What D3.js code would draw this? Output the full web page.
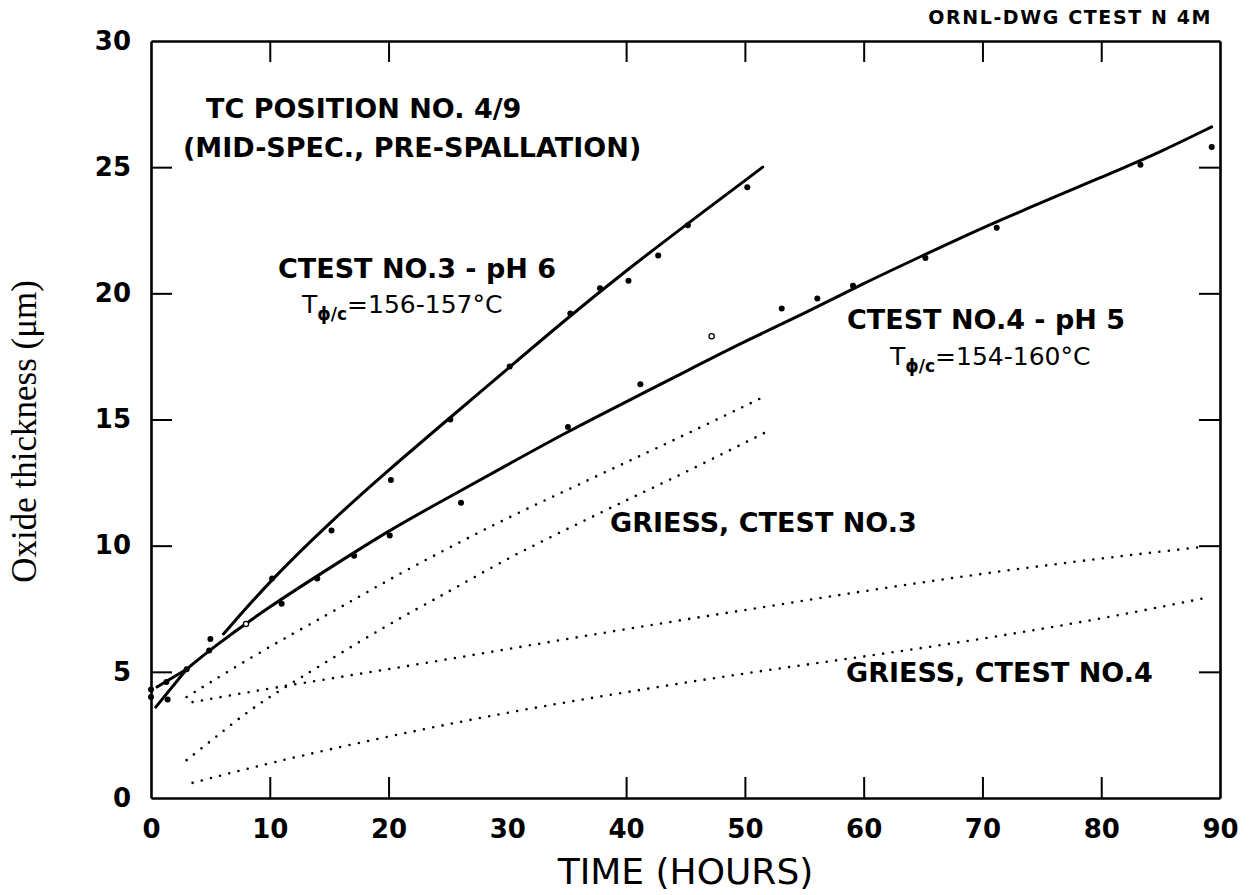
<!DOCTYPE html>
<html>
<head>
<meta charset="utf-8">
<script src="https://cdn.jsdelivr.net/npm/d3@7"></script>
<style>
  body { margin: 0; background: #fff; }
</style>
</head>
<body>
<div id="oxide_chart"></div>
<script>
// measured points, CTEST no.3 (pH 6)
const ctest3Hours = [0, 1.3, 3, 5, 10.2, 15.2, 20.2, 25.2, 30.2, 35.3, 37.8, 40.2, 42.7, 45.2, 50.2]
const ctest3Oxide = [4.3, 4.6, 5.1, 6.3, 8.7, 10.6, 12.6, 15.0, 17.1, 19.2, 20.2, 20.5, 21.5, 22.7, 24.2]

// measured points, CTEST no.4 (pH 5)
const ctest4Hours = [0, 1.4, 4.9, 8, 11, 14, 17.1, 20.1, 26.1, 35.1, 41.2, 47.2, 53.1, 56.1, 59.1, 65.2, 71.2, 83.3, 89.3]
const ctest4Oxide = [4.0, 3.9, 5.85, 6.9, 7.7, 8.7, 9.6, 10.4, 11.7, 14.7, 16.4, 18.3, 19.4, 19.8, 20.3, 21.4, 22.6, 25.1, 25.8]
// these ones are drawn as open circles
const openPointHours = [8, 47.2]

// hand drawn fit curves
const fit3Hours = [6.1, 10, 15, 20, 25, 30, 35, 40, 45, 51.5]
const fit3Oxide = [6.5, 8.6, 10.9, 13.0, 15.0, 17.0, 19.0, 20.9, 22.7, 25.0]
const fit4Hours = [3, 5, 10, 15, 20, 25, 30, 35, 40, 45, 50, 55, 60, 65, 70, 75, 80, 85, 89.3]
const fit4Oxide = [5.1, 5.9, 7.6, 9.1, 10.6, 11.9, 13.2, 14.5, 15.7, 16.9, 18.1, 19.2, 20.4, 21.5, 22.6, 23.6, 24.6, 25.6, 26.6]
// short early segments near the origin
const earlyAHours = [0.5, 3]
const earlyAOxide = [4.4, 5.1]
const earlyBHours = [0.4, 3]
const earlyBOxide = [3.6, 5.1]

// Griess correlation (dotted)
const griess3aHours = [3, 9, 15, 20, 25, 30, 35, 40, 45, 51.6]
const griess3aOxide = [4.0, 5.75, 7.3, 8.65, 9.9, 11.1, 12.2, 13.3, 14.4, 15.9]
const griess3bHours = [3, 5.4, 8.6, 12, 20, 25, 30, 35, 40, 45, 52.2]
const griess3bOxide = [1.5, 2.4, 3.6, 4.6, 6.9, 8.15, 9.5, 10.65, 11.8, 12.9, 14.6]
const griess4aHours = [3.5, 10, 20, 30, 40, 50, 60, 70, 80, 88.5]
const griess4aOxide = [3.8, 4.35, 5.1, 5.9, 6.7, 7.45, 8.2, 8.9, 9.5, 9.95]
const griess4bHours = [3.5, 10, 20, 30, 40, 50, 60, 70, 80, 88.5]
const griess4bOxide = [0.6, 1.4, 2.45, 3.4, 4.2, 4.95, 5.6, 6.3, 7.1, 7.9]

// axis ticks
const xTicks = [0, 10, 20, 30, 40, 50, 60, 70, 80, 90]
const yTicks = [0, 5, 10, 15, 20, 25, 30]

const width = 1252
const height = 895
const plot = { left: 151, right: 1220, top: 41, bottom: 798 }
const tickLen = 21

const svg = d3.select("#oxide_chart").append("svg")
    .attr("width", width)
    .attr("height", height)
    .style("background", "#fff")

const x = d3.scaleLinear().domain([0, 90]).range([plot.left, plot.right])
const y = d3.scaleLinear().domain([0, 30]).range([plot.bottom, plot.top])

const tickFont = "'DejaVu Sans', sans-serif"

// zip two arrays into points
function zip(hs, vs) {
    return hs.map(function(h, i) { return [h, vs[i]] })
}

// frame and ticks (ticks point inwards on all four sides)
function styleAxis(g) {
    g.select(".domain").attr("stroke", "#000").attr("stroke-width", 2.6)
    g.selectAll(".tick line").attr("stroke", "#000").attr("stroke-width", 2)
    g.selectAll(".tick text")
        .attr("fill", "#000")
        .style("font-family", tickFont)
        .style("font-weight", "bold")
        .style("font-size", "26px")
}

svg.append("g")
    .attr("transform", "translate(0," + plot.bottom + ")")
    .call(d3.axisBottom(x).tickValues(xTicks).tickSize(-tickLen).tickSizeOuter(0).tickPadding(22))
    .call(styleAxis)

svg.append("g")
    .attr("transform", "translate(" + plot.left + ",0)")
    .call(d3.axisLeft(y).tickValues(yTicks).tickSize(-tickLen).tickSizeOuter(0).tickPadding(20))
    .call(styleAxis)

svg.append("g")
    .attr("transform", "translate(0," + plot.top + ")")
    .call(d3.axisTop(x).tickValues(xTicks).tickSize(-tickLen).tickSizeOuter(0).tickFormat(""))
    .call(styleAxis)

svg.append("g")
    .attr("transform", "translate(" + plot.right + ",0)")
    .call(d3.axisRight(y).tickValues(yTicks).tickSize(-tickLen).tickSizeOuter(0).tickFormat(""))
    .call(styleAxis)

// no ticks on the frame corners
svg.selectAll(".tick").filter(function(d) { return d === 0 || d === 90 || d === 30 }).select("line").remove()

const line = d3.line()
    .x(function(d) { return x(d[0]) })
    .y(function(d) { return y(d[1]) })
    .curve(d3.curveBasis)

// solid fit curves
const solidCurves = [
    zip(fit3Hours, fit3Oxide),
    zip(fit4Hours, fit4Oxide),
    zip(earlyAHours, earlyAOxide),
    zip(earlyBHours, earlyBOxide)
]
svg.append("g").selectAll("path")
    .data(solidCurves)
    .enter()
    .append("path")
        .attr("d", line)
        .attr("fill", "none")
        .attr("stroke", "#000")
        .attr("stroke-width", 3)
        .attr("stroke-linecap", "round")

// dotted Griess curves
const dottedCurves = [
    zip(griess3aHours, griess3aOxide),
    zip(griess3bHours, griess3bOxide),
    zip(griess4aHours, griess4aOxide),
    zip(griess4bHours, griess4bOxide)
]
svg.append("g").selectAll("path")
    .data(dottedCurves)
    .enter()
    .append("path")
        .attr("d", line)
        .attr("fill", "none")
        .attr("stroke", "#000")
        .attr("stroke-width", 2.6)
        .attr("stroke-linecap", "round")
        .attr("stroke-dasharray", "0,9.5")

// measured points
const allPoints = zip(ctest3Hours, ctest3Oxide).concat(zip(ctest4Hours, ctest4Oxide))
svg.append("g").selectAll("circle")
    .data(allPoints)
    .enter()
    .append("circle")
        .attr("cx", function(d) { return x(d[0]) })
        .attr("cy", function(d) { return y(d[1]) })
        .attr("r", function(d) { return openPointHours.indexOf(d[0]) >= 0 ? 2.6 : 3 })
        .attr("fill", function(d) { return openPointHours.indexOf(d[0]) >= 0 ? "#fff" : "#000" })
        .attr("stroke", "#000")
        .attr("stroke-width", function(d) { return openPointHours.indexOf(d[0]) >= 0 ? 1.3 : 0 })

// annotations
function label(px, py, txt, size, weight) {
    return svg.append("text")
        .attr("x", px)
        .attr("y", py)
        .attr("fill", "#000")
        .style("font-family", tickFont)
        .style("font-size", size + "px")
        .style("font-weight", weight)
        .text(txt)
}

label(206, 118, "TC POSITION NO. 4/9", 27, "bold")
label(183, 157, "(MID-SPEC., PRE-SPALLATION)", 27, "bold")
label(278, 278, "CTEST NO.3 - pH 6", 27, "bold")
label(847, 329, "CTEST NO.4 - pH 5", 27, "bold")
label(610, 532, "GRIESS, CTEST NO.3", 27, "bold")
label(846, 682, "GRIESS, CTEST NO.4", 27, "bold")
label(1212, 24, "ORNL-DWG CTEST N 4M", 19, "bold")
    .attr("text-anchor", "end")
    .style("letter-spacing", "1.6px")

// coolant temperature lines, T with a phi/c subscript
function tempLabel(px, py, range) {
    const t = label(px, py, "", 25, "normal")
    t.append("tspan").text("T")
    t.append("tspan").attr("dy", 7).style("font-size", "17px").style("font-weight", "bold").text("\u03d5/c")
    t.append("tspan").attr("dy", -7).text("=" + range + "\u00b0C")
}
tempLabel(302, 313, "156-157")
tempLabel(890, 365, "154-160")

// axis titles
label((plot.left + plot.right) / 2, 884, "TIME (HOURS)", 36, "normal")
    .attr("text-anchor", "middle")

svg.append("text")
    .attr("transform", "translate(36," + ((plot.top + plot.bottom) / 2 + 12) + ") rotate(-90)")
    .attr("text-anchor", "middle")
    .attr("fill", "#000")
    .style("font-family", "'Liberation Serif', 'Times New Roman', serif")
    .style("font-size", "35px")
    .text("Oxide thickness (\u03bcm)")
</script>
</body>
</html>
